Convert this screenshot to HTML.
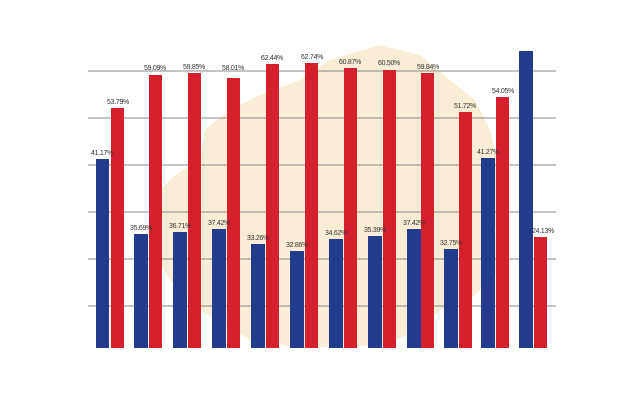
<!DOCTYPE html>
<html><head><style>
html,body{margin:0;padding:0;background:#fff;width:640px;height:400px;overflow:hidden}
text{font-family:"Liberation Sans",sans-serif;font-size:7px;fill:#333;letter-spacing:-0.3px}
</style></head><body>
<svg width="640" height="400" viewBox="0 0 640 400" xmlns="http://www.w3.org/2000/svg">
<rect width="640" height="400" fill="#fff"/>
<path d="M150 200 L175 175 L200 160 L205 130 L230 110 L260 95 L300 80 L330 60 L380 45 L420 55 L450 80 L475 100 L490 130 L500 170 L505 200 L495 230 L500 270 L470 300 L440 310 L420 330 L380 345 L300 348 L250 340 L200 310 L170 280 L150 250 Z" fill="#f8ebd0" opacity="0.9"/>
<g stroke="#888" stroke-width="1">
<line x1="88" y1="71" x2="556" y2="71"/>
<line x1="88" y1="118" x2="556" y2="118"/>
<line x1="88" y1="165" x2="556" y2="165"/>
<line x1="88" y1="212" x2="556" y2="212"/>
<line x1="88" y1="259" x2="556" y2="259"/>
<line x1="88" y1="306" x2="556" y2="306"/>
</g>
<g fill="#233b8d">
<rect x="96" y="159" width="13" height="189"/>
<rect x="134" y="234" width="14" height="114"/>
<rect x="173" y="232" width="14" height="116"/>
<rect x="212" y="229" width="14" height="119"/>
<rect x="251" y="244" width="14" height="104"/>
<rect x="290" y="251" width="14" height="97"/>
<rect x="329" y="239" width="14" height="109"/>
<rect x="368" y="236" width="14" height="112"/>
<rect x="407" y="229" width="14" height="119"/>
<rect x="444" y="249" width="14" height="99"/>
<rect x="481" y="158" width="14" height="190"/>
<rect x="519" y="51" width="14" height="297"/>
</g>
<g fill="#d4202d">
<rect x="111" y="108" width="13" height="240"/>
<rect x="149" y="75" width="13" height="273"/>
<rect x="188" y="73" width="13" height="275"/>
<rect x="227" y="78" width="13" height="270"/>
<rect x="266" y="64" width="13" height="284"/>
<rect x="305" y="63" width="13" height="285"/>
<rect x="344" y="68" width="13" height="280"/>
<rect x="383" y="70" width="13" height="278"/>
<rect x="421" y="73" width="13" height="275"/>
<rect x="459" y="112" width="13" height="236"/>
<rect x="496" y="97" width="13" height="251"/>
<rect x="534" y="237" width="13" height="111"/>
</g>
<g text-anchor="middle">
<text x="102" y="155">41.17%</text>
<text x="118" y="104">53.79%</text>
<text x="141" y="230">35.69%</text>
<text x="155" y="70">59.09%</text>
<text x="180" y="228">36.71%</text>
<text x="194" y="69">59.85%</text>
<text x="219" y="225">37.42%</text>
<text x="233" y="70">58.01%</text>
<text x="258" y="240">33.26%</text>
<text x="272" y="60">62.44%</text>
<text x="297" y="247">32.86%</text>
<text x="312" y="59">62.74%</text>
<text x="336" y="235">34.62%</text>
<text x="350" y="64">60.87%</text>
<text x="375" y="232">35.39%</text>
<text x="389" y="65">60.50%</text>
<text x="414" y="225">37.42%</text>
<text x="428" y="69">59.84%</text>
<text x="451" y="245">32.75%</text>
<text x="465" y="108">51.72%</text>
<text x="488" y="154">41.27%</text>
<text x="503" y="93">54.05%</text>
<text x="543" y="233">24.13%</text>
</g>
</svg>
</body></html>
